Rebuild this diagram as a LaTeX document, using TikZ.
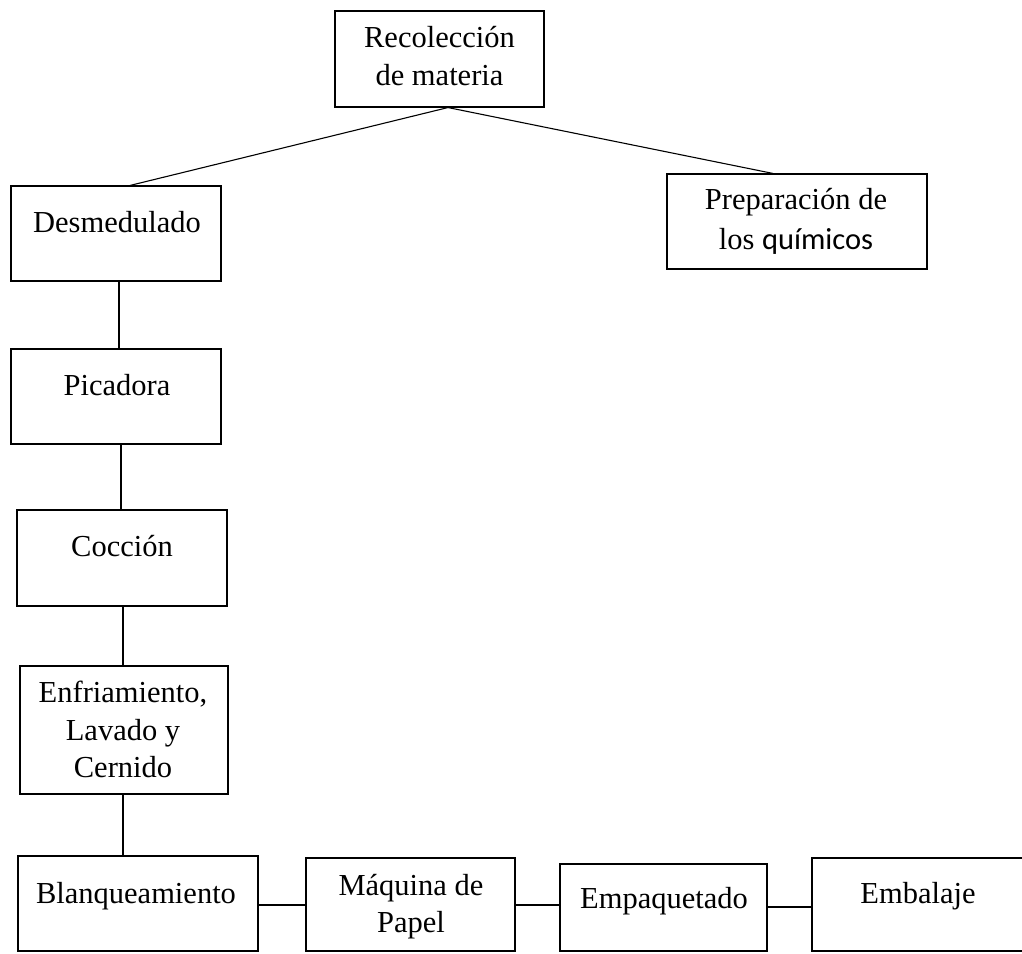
\documentclass[tikz,border=0pt]{standalone}
\usepackage{fontspec}
\setmainfont{Liberation Serif}
\newfontfamily\qfont{Carlito}
\usetikzlibrary{calc}
\begin{document}
\begin{tikzpicture}[x=1pt,y=-1pt,
  box/.style={draw, line width=1.1pt, rectangle, inner sep=0pt},
  txt/.style={font=\fontsize{30.5}{37}\selectfont, inner sep=0pt, anchor=base},
  link/.style={line width=1.1pt}]
\useasboundingbox (0,0) rectangle (1022,953);
\clip (0,0) rectangle (1022,953);
% boxes
\node[box, minimum width=209pt, minimum height=96pt] (rec) at (439.5,59) {};
\node[box, minimum width=210pt, minimum height=95pt] (des) at (116,233.5) {};
\node[box, minimum width=260pt, minimum height=95pt] (prep) at (797,221.5) {};
\node[box, minimum width=210pt, minimum height=95pt] (pic) at (116,396.5) {};
\node[box, minimum width=210pt, minimum height=96pt] (coc) at (122,558) {};
\node[box, minimum width=208pt, minimum height=128pt] (enf) at (124,730) {};
\node[box, minimum width=240pt, minimum height=95pt] (bla) at (138,903.5) {};
\node[box, minimum width=209pt, minimum height=93pt] (maq) at (410.5,904.5) {};
\node[box, minimum width=207pt, minimum height=87pt] (emp) at (663.5,907.5) {};
\node[box, minimum width=218pt, minimum height=93pt] (emb) at (921,904.5) {};
% texts
\node[txt] (recA) at (439.5,47.7) {Recolección};
\node[txt] (recB) at (439.5,85) {de materia};
\node[txt] (desA) at (117,232) {Desmedulado};
\node[txt] (prepA) at (796,209) {Preparación de};
\node[txt] (prepB) at (796,249) {los {\qfont químicos}};
\node[txt] (picA) at (117,395) {Picadora};
\node[txt] (cocA) at (122,556) {Cocción};
\node[txt] (enfA) at (123,702) {Enfriamiento,};
\node[txt] (enfB) at (123,740) {Lavado y};
\node[txt] (enfC) at (123,777) {Cernido};
\node[txt] (blaA) at (136,903) {Blanqueamiento};
\node[txt] (maqA) at (411,895) {Máquina de};
\node[txt] (maqB) at (411,932) {Papel};
\node[txt] (empA) at (664,908) {Empaquetado};
\node[txt] (embA) at (918,903) {Embalaje};
% connectors
\draw[link] ($(rec.south)+(8.5,0)$) -- ($(des.north)+(14,0)$);
\draw[link] ($(rec.south)+(8.5,0)$) -- ($(prep.north)+(-24,0)$);
\draw[link] ($(des.south)+(3,0)$) -- ($(pic.north)+(3,0)$);
\draw[link] ($(pic.south)+(5,0)$) -- ($(coc.north)+(-1,0)$);
\draw[link] ($(coc.south)+(1,0)$) -- ($(enf.north)+(-1,0)$);
\draw[link] ($(enf.south)+(-1,0)$) -- ($(bla.north)+(-15,0)$);
\draw[link] ($(bla.east)+(0,1.5)$) -- ($(maq.west)+(0,0.5)$);
\draw[link] ($(maq.east)+(0,0.5)$) -- ($(emp.west)+(0,-2.5)$);
\draw[link] ($(emp.east)+(0,-0.5)$) -- ($(emb.west)+(0,2.5)$);
\end{tikzpicture}
\end{document}
